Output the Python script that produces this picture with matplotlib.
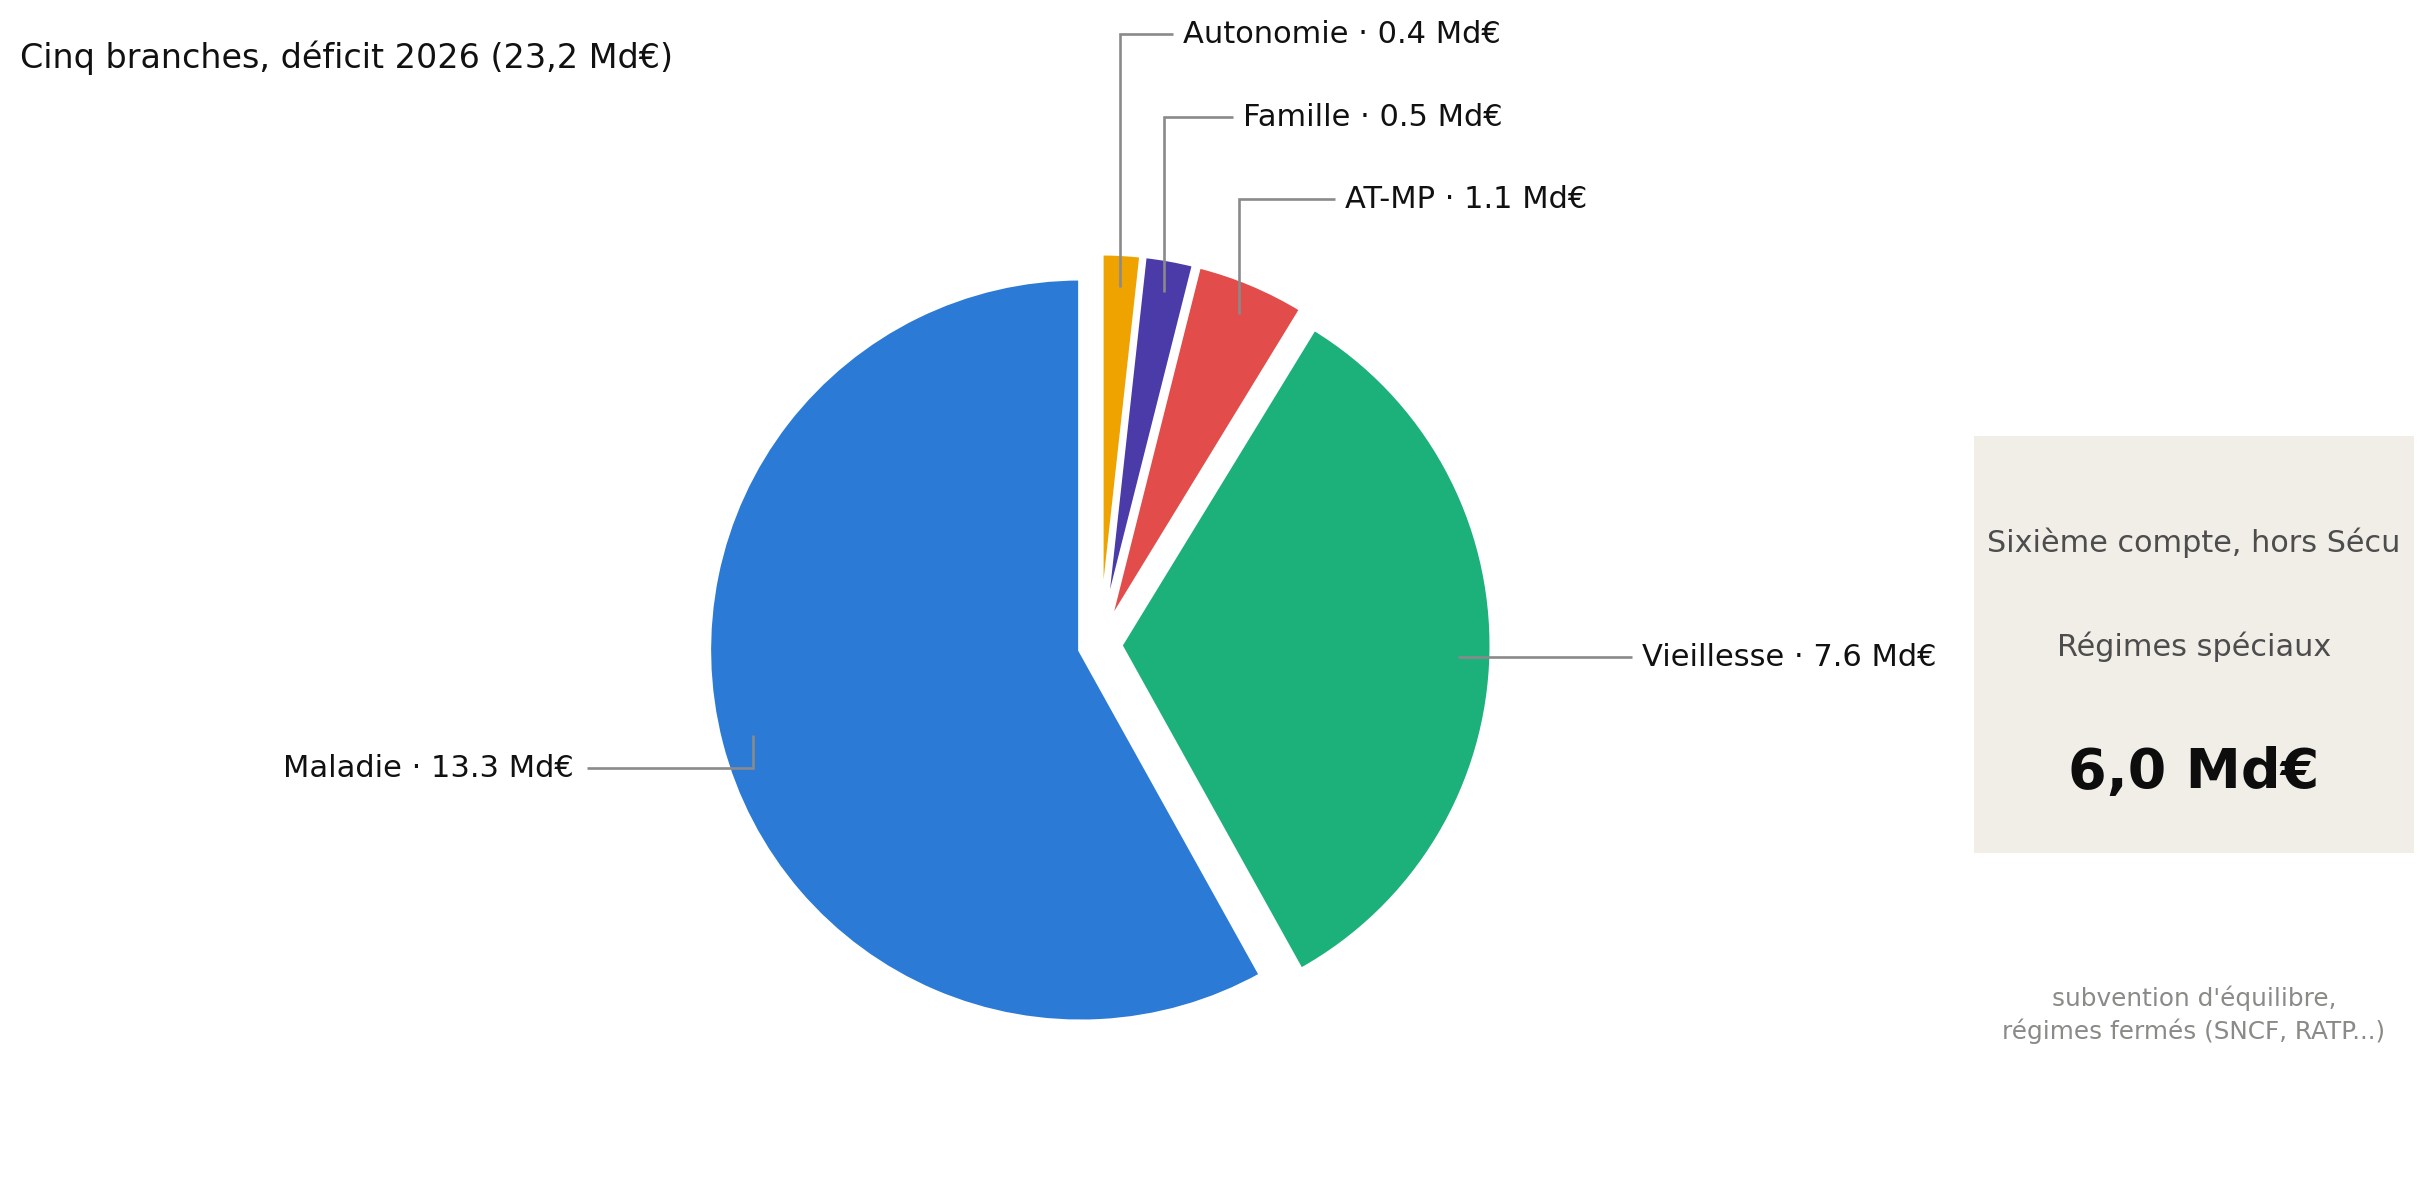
import matplotlib
matplotlib.use("Agg")
import matplotlib.pyplot as plt
import numpy as np

# ---- data ----
branches = ["Autonomie", "Famille", "AT-MP", "Vieillesse", "Maladie"]
deficits = [0.4, 0.5, 1.1, 7.6, 13.3]
branch_colors = ["#EEA300", "#4A3BA8", "#E24C4A", "#1CB07A", "#2A7AD6"]
title_text = "Cinq branches, déficit 2026 (23,2 Md€)"
box_heading = "Sixième compte, hors Sécu"
box_label = "Régimes spéciaux"
box_value = "6,0 Md€"
box_note = ["subvention d'équilibre,", "régimes fermés (SNCF, RATP...)"]

# ---- layout (pixel units, y measured from top) ----
W, H = 2433, 1189
def Y(t):
    return H - t

fig = plt.figure(figsize=(W / 100, H / 100), dpi=100)
ax = fig.add_axes([0, 0, 1, 1])

wedges, _ = ax.pie(
    deficits, colors=branch_colors, startangle=90, counterclock=False,
    explode=[20] * len(deficits), radius=372, center=(1100, Y(645)),
    wedgeprops=dict(edgecolor="white", linewidth=3.6),
)
ax.set_xlim(0, W)
ax.set_ylim(0, H)
ax.set_aspect("auto")
ax.set_axis_off()

# label layout: (side, label line y from top, text x)
label_layout = {
    "Autonomie": ("top", 34, 1183),
    "Famille": ("top", 117, 1243),
    "AT-MP": ("top", 199, 1345),
    "Vieillesse": ("right", 657, 1642),
    "Maladie": ("left", 768, 574),
}
line_color = "#8A8A8A"
for name, val, w in zip(branches, deficits, wedges):
    mid = np.deg2rad((w.theta1 + w.theta2) / 2)
    cx, cy = w.center
    axp = cx + 0.91 * w.r * np.cos(mid)
    ayp = cy + 0.91 * w.r * np.sin(mid)
    side, ly, tx = label_layout[name]
    lyb = Y(ly)
    txt = f"{name} · {val:.1f} Md€"
    if side == "left":
        xend = tx + 13
        ha = "right"
        xs, ys = [axp, axp, xend], [ayp, lyb, lyb]
    elif side == "right":
        xend = tx - 10
        ha = "left"
        xs, ys = [axp, xend], [lyb, lyb]
    else:
        xend = tx - 10
        ha = "left"
        xs, ys = [axp, axp, xend], [ayp, lyb, lyb]
    ax.plot(xs, ys, color=line_color, lw=1.9,
            solid_joinstyle="miter", solid_capstyle="butt", zorder=5)
    ax.text(tx, lyb - 9, txt, ha=ha, va="baseline", fontsize=22,
            color="#111111", family="DejaVu Sans")

# title
ax.text(20, Y(68), title_text, ha="left", va="baseline", fontsize=24,
        color="#111111")

# side box
ax.add_patch(plt.Rectangle((1974, Y(853)), 2414 - 1974, 853 - 436,
                           facecolor="#F1EEE8", edgecolor="none", zorder=1))
bx = 2194
ax.text(bx, Y(552), box_heading, ha="center", va="baseline", fontsize=21.8,
        color="#4D4D4D", zorder=3)
ax.text(bx, Y(656), box_label, ha="center", va="baseline", fontsize=21.8,
        color="#4D4D4D", zorder=3)
ax.text(bx, Y(788), box_value, ha="center", va="baseline", fontsize=40,
        fontweight="bold", color="#0D0D0D", zorder=3)
ax.text(bx, Y(1006), box_note[0], ha="center", va="baseline", fontsize=17.8,
        color="#8A8A86", zorder=3)
ax.text(bx, Y(1039), box_note[1], ha="center", va="baseline", fontsize=17.8,
        color="#8A8A86", zorder=3)

fig.savefig("out.png", dpi=100, facecolor="white")
